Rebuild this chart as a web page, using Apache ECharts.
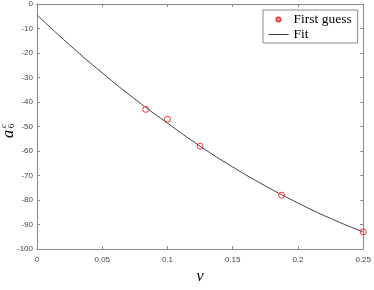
<!DOCTYPE html>
<html>
<head>
<meta charset="utf-8">
<style>html,body{margin:0;padding:0;background:#fff}#c{width:374px;height:290px}</style>
<script src="https://cdn.jsdelivr.net/npm/echarts@6/dist/echarts.min.js"></script>
</head>
<body>
<div id="c"></div>
<script>
// data
var guessNu = [0.0833, 0.1, 0.125, 0.1875, 0.25];
var guessA = [-43.0, -47.0, -58.0, -78.0, -93.0];
var fitNu = [0, 0.025, 0.05, 0.075, 0.1, 0.125, 0.15, 0.175, 0.2, 0.225, 0.25];
var fitA = [-4.5, -16.7, -28.1, -38.8, -48.6, -58.0, -66.5, -74.2, -81.2, -87.5, -93.0];
var xTicks = [0, 0.05, 0.1, 0.15, 0.2, 0.25];
var yTicks = [0, -10, -20, -30, -40, -50, -60, -70, -80, -90, -100];

function pairs(xs, ys){ return xs.map(function(x,i){ return [x, ys[i]]; }); }

var axisGray = '#8a8a8a';
var labelStyle = {color:'#444', fontSize:8, fontFamily:'Liberation Sans, Arial, sans-serif'};
function xAx(pos, show){
  return {type:'value', position:pos, min:xTicks[0], max:xTicks[xTicks.length-1], interval:0.05,
    axisLine:{show:true, onZero:false, lineStyle:{color:axisGray, width:1}},
    axisTick:{show:true, inside:true, length:3, lineStyle:{color:axisGray}},
    axisLabel:Object.assign({show:show, margin:7}, labelStyle),
    splitLine:{show:false},
    name: show ? 'ν' : '', nameLocation:'middle', nameGap:19,
    nameTextStyle:{fontFamily:'Liberation Serif, serif', fontStyle:'italic', fontSize:16, color:'#000'}};
}
function yAx(pos, show){
  return {type:'value', position:pos, min:yTicks[yTicks.length-1], max:yTicks[0], interval:10,
    axisLine:{show:true, onZero:false, lineStyle:{color:axisGray, width:1}},
    axisTick:{show:true, inside:true, length:3, lineStyle:{color:axisGray}},
    axisLabel:Object.assign({show:show, margin:4}, labelStyle),
    splitLine:{show:false}};
}

var serif = 'Liberation Serif, serif';
var rot = Math.PI/2;
var chart = echarts.init(document.getElementById('c'), null, {renderer:'canvas'});
chart.setOption({
  animation:false,
  backgroundColor:'#fff',
  grid:{left:37, right:7, top:3, bottom:27},
  xAxis:[xAx('bottom', true), xAx('top', false)],
  yAxis:[yAx('left', true), yAx('right', false)],
  legend:{
    left:263, top:10, orient:'vertical',
    backgroundColor:'#fff', borderColor:'#8a8a8a', borderWidth:1, borderRadius:0,
    padding:[2,6,1,5], itemGap:0, itemWidth:20, itemHeight:4,
    textStyle:{fontFamily:serif, fontSize:13.5, color:'#000', lineHeight:15},
    data:[{name:'First guess'}, {name:'Fit', itemStyle:{opacity:0}, lineStyle:{width:1, color:'#404040'}}]
  },
  series:[
    {name:'Fit', type:'line', data:pairs(fitNu, fitA), smooth:true, symbol:'none',
     lineStyle:{color:'#404040', width:1}, itemStyle:{color:'#404040'}, z:2},
    {name:'First guess', type:'scatter', data:pairs(guessNu, guessA), symbol:'circle', symbolSize:6,
     itemStyle:{color:'rgba(0,0,0,0)', borderColor:'#ff0000', borderWidth:1}, z:3}
  ],
  graphic:[
    {type:'text', x:9, y:134, rotation:rot,
     style:{text:'a', fontFamily:serif, fontStyle:'italic', fontSize:16, fill:'#000', align:'center', verticalAlign:'middle'}},
    {type:'text', x:12, y:126, rotation:rot,
     style:{text:'6', fontFamily:serif, fontSize:9, fill:'#000', align:'center', verticalAlign:'middle'}},
    {type:'text', x:4, y:126, rotation:rot,
     style:{text:'c', fontFamily:serif, fontStyle:'italic', fontSize:9, fill:'#000', align:'center', verticalAlign:'middle'}}
  ]
});
</script>
</body>
</html>
